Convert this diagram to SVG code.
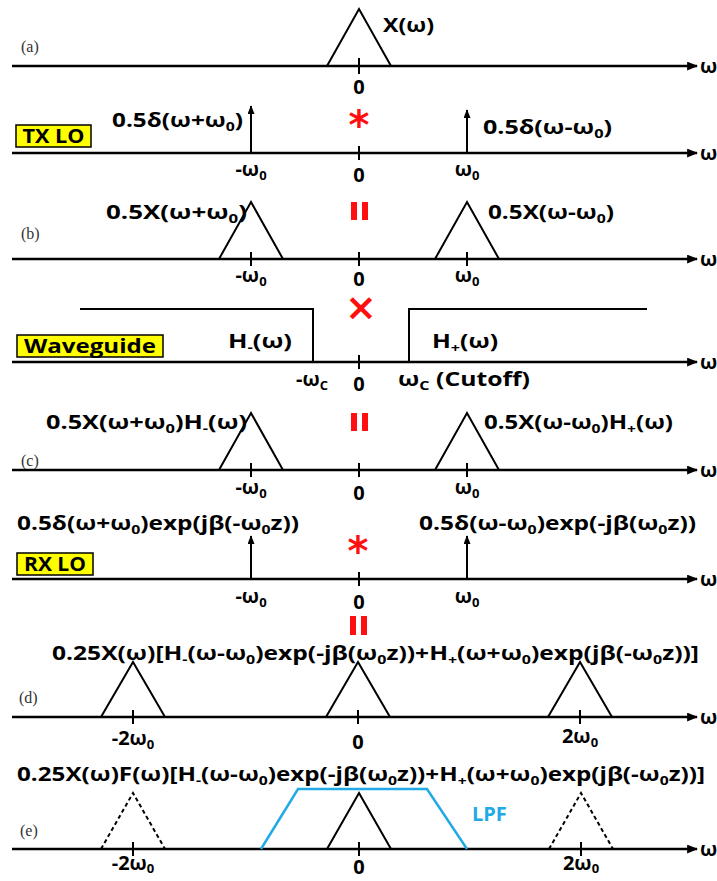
<svg xmlns="http://www.w3.org/2000/svg" width="717" height="881" viewBox="0 0 717 881">
<defs>
<style>
.t{font-family:"Open Sans","Liberation Sans",sans-serif;font-weight:700;font-size:20px;fill:#000}
.s{font-size:13px}
.lab{font-family:"Liberation Serif",serif;font-size:16px;fill:#333}
.ax{stroke:#000;stroke-width:2.5;fill:none}
.tk{stroke:#000;stroke-width:2;fill:none}
.tri{stroke:#000;stroke-width:2;fill:none;stroke-linejoin:miter}
.dash{stroke:#000;stroke-width:2;fill:none;stroke-dasharray:4 3}
.red{fill:#ff1010}
.op{font-family:"DejaVu Sans",sans-serif;font-weight:700;fill:#ff1010}
.box{fill:#ffff00;stroke:#000;stroke-width:1.5}
.lpf{stroke:#22aae6;stroke-width:2.5;fill:none}
</style>
<marker id="ah" viewBox="0 0 10 8" refX="9" refY="4" markerWidth="11" markerHeight="9" markerUnits="userSpaceOnUse" orient="auto"><path d="M0,0L10,4L0,8Z" fill="#000"/></marker>
<marker id="up" viewBox="0 0 10 8" refX="9" refY="4" markerWidth="10" markerHeight="7" markerUnits="userSpaceOnUse" orient="auto"><path d="M0,0L10,4L0,8Z" fill="#000"/></marker>
</defs>

<g id="connectors">
<line class="ax" x1="12" y1="66" x2="697" y2="66" marker-end="url(#ah)"/>
<line class="ax" x1="12" y1="153" x2="697" y2="153" marker-end="url(#ah)"/>
<line class="ax" x1="12" y1="259" x2="697" y2="259" marker-end="url(#ah)"/>
<line class="ax" x1="12" y1="362" x2="697" y2="362" marker-end="url(#ah)"/>
<line class="ax" x1="12" y1="470" x2="697" y2="470" marker-end="url(#ah)"/>
<line class="ax" x1="12" y1="579" x2="697" y2="579" marker-end="url(#ah)"/>
<line class="ax" x1="12" y1="717" x2="697" y2="717" marker-end="url(#ah)"/>
<line class="ax" x1="12" y1="849" x2="697" y2="849" marker-end="url(#ah)"/>
</g>

<g id="row-a">
<text class="lab" x="21" y="52">(a)</text>
<path class="tri" d="M327,66L359,9L391,66"/>
<line class="tk" x1="359" y1="58" x2="359" y2="74"/>
<text class="t" x="383" y="32" textLength="51" lengthAdjust="spacingAndGlyphs">X(ω)</text>
<text class="t" x="359" y="94" text-anchor="middle">0</text>
<text class="t" x="700" y="73">ω</text>
</g>

<g id="row-txlo">
<rect class="box" x="16" y="125" width="75" height="22"/>
<text class="t" x="53.5" y="143" text-anchor="middle" textLength="62" lengthAdjust="spacingAndGlyphs">TX LO</text>
<line class="tk" x1="251" y1="153" x2="251" y2="106" marker-end="url(#up)"/>
<line class="tk" x1="467" y1="153" x2="467" y2="110" marker-end="url(#up)"/>
<line class="tk" x1="359" y1="146" x2="359" y2="160"/>
<text class="t" x="112" y="127" textLength="131" lengthAdjust="spacingAndGlyphs">0.5δ(ω+ω<tspan class="s" dy="4">0</tspan><tspan dy="-4">)</tspan></text>
<text class="t" x="483" y="134" textLength="129" lengthAdjust="spacingAndGlyphs">0.5δ(ω-ω<tspan class="s" dy="4">0</tspan><tspan dy="-4">)</tspan></text>
<text class="op" x="359" y="139" text-anchor="middle" font-size="40">*</text>
<text class="t" x="251" y="176" text-anchor="middle">-ω<tspan class="s" dy="4">0</tspan></text>
<text class="t" x="467" y="176" text-anchor="middle">ω<tspan class="s" dy="4">0</tspan></text>
<text class="t" x="359" y="182" text-anchor="middle">0</text>
<text class="t" x="700" y="160">ω</text>
</g>

<g id="row-b">
<rect class="red" x="351" y="202" width="6" height="18"/>
<rect class="red" x="362" y="202" width="6" height="18"/>
<text class="lab" x="21" y="239">(b)</text>
<path class="tri" d="M219,259L251,202L283,259"/>
<path class="tri" d="M435,259L467,202L499,259"/>
<line class="tk" x1="251" y1="252" x2="251" y2="266"/>
<line class="tk" x1="359" y1="252" x2="359" y2="266"/>
<line class="tk" x1="467" y1="252" x2="467" y2="266"/>
<text class="t" x="106" y="219" textLength="141" lengthAdjust="spacingAndGlyphs">0.5X(ω+ω<tspan class="s" dy="4">0</tspan><tspan dy="-4">)</tspan></text>
<text class="t" x="488" y="219" textLength="126" lengthAdjust="spacingAndGlyphs">0.5X(ω-ω<tspan class="s" dy="4">0</tspan><tspan dy="-4">)</tspan></text>
<text class="t" x="251" y="282" text-anchor="middle">-ω<tspan class="s" dy="4">0</tspan></text>
<text class="t" x="467" y="282" text-anchor="middle">ω<tspan class="s" dy="4">0</tspan></text>
<text class="t" x="359" y="286" text-anchor="middle">0</text>
<text class="t" x="700" y="266">ω</text>
</g>

<g id="row-waveguide">
<text class="op" x="361" y="320" text-anchor="middle" font-size="38">×</text>
<path class="tri" d="M80,309H313V362"/>
<path class="tri" d="M409,362V309H647"/>
<rect class="box" x="17" y="335" width="146" height="22"/>
<text class="t" x="90" y="353" text-anchor="middle" textLength="132" lengthAdjust="spacingAndGlyphs">Waveguide</text>
<text class="t" x="228" y="348" textLength="64" lengthAdjust="spacingAndGlyphs">H<tspan class="s" dy="4">-</tspan><tspan dy="-4">(ω)</tspan></text>
<text class="t" x="432" y="348" textLength="66" lengthAdjust="spacingAndGlyphs">H<tspan class="s" dy="4">+</tspan><tspan dy="-4">(ω)</tspan></text>
<line class="tk" x1="359" y1="355" x2="359" y2="369"/>
<text class="t" x="296" y="386">-ω<tspan class="s" dy="4">C</tspan></text>
<text class="t" x="359" y="391" text-anchor="middle">0</text>
<text class="t" x="398" y="386" textLength="132" lengthAdjust="spacingAndGlyphs">ω<tspan class="s" dy="4">C</tspan><tspan dy="-4"> (Cutoff)</tspan></text>
<text class="t" x="700" y="369">ω</text>
</g>

<g id="row-c">
<rect class="red" x="351" y="413" width="6" height="18"/>
<rect class="red" x="362" y="413" width="6" height="18"/>
<text class="lab" x="21" y="466">(c)</text>
<path class="tri" d="M219,470L251,413L283,470"/>
<path class="tri" d="M435,470L467,413L499,470"/>
<line class="tk" x1="251" y1="463" x2="251" y2="477"/>
<line class="tk" x1="359" y1="463" x2="359" y2="477"/>
<line class="tk" x1="467" y1="463" x2="467" y2="477"/>
<text class="t" x="46" y="429" textLength="201" lengthAdjust="spacingAndGlyphs">0.5X(ω+ω<tspan class="s" dy="4">0</tspan><tspan dy="-4">)H</tspan><tspan class="s" dy="4">-</tspan><tspan dy="-4">(ω)</tspan></text>
<text class="t" x="484" y="429" textLength="189" lengthAdjust="spacingAndGlyphs">0.5X(ω-ω<tspan class="s" dy="4">0</tspan><tspan dy="-4">)H</tspan><tspan class="s" dy="4">+</tspan><tspan dy="-4">(ω)</tspan></text>
<text class="t" x="251" y="494" text-anchor="middle">-ω<tspan class="s" dy="4">0</tspan></text>
<text class="t" x="467" y="494" text-anchor="middle">ω<tspan class="s" dy="4">0</tspan></text>
<text class="t" x="359" y="500" text-anchor="middle">0</text>
<text class="t" x="700" y="477">ω</text>
</g>

<g id="row-rxlo">
<text class="t" x="17" y="530" textLength="282" lengthAdjust="spacingAndGlyphs">0.5δ(ω+ω<tspan class="s" dy="4">0</tspan><tspan dy="-4">)exp(jβ(-ω</tspan><tspan class="s" dy="4">0</tspan><tspan dy="-4">z))</tspan></text>
<text class="t" x="419" y="530" textLength="277" lengthAdjust="spacingAndGlyphs">0.5δ(ω-ω<tspan class="s" dy="4">0</tspan><tspan dy="-4">)exp(-jβ(ω</tspan><tspan class="s" dy="4">0</tspan><tspan dy="-4">z))</tspan></text>
<line class="tk" x1="251" y1="579" x2="251" y2="536" marker-end="url(#up)"/>
<line class="tk" x1="467" y1="579" x2="467" y2="536" marker-end="url(#up)"/>
<text class="op" x="358" y="565" text-anchor="middle" font-size="40">*</text>
<rect class="box" x="17" y="553" width="76" height="22"/>
<text class="t" x="55" y="571" text-anchor="middle" textLength="62" lengthAdjust="spacingAndGlyphs">RX LO</text>
<line class="tk" x1="359" y1="572" x2="359" y2="586"/>
<text class="t" x="251" y="603" text-anchor="middle">-ω<tspan class="s" dy="4">0</tspan></text>
<text class="t" x="467" y="603" text-anchor="middle">ω<tspan class="s" dy="4">0</tspan></text>
<text class="t" x="359" y="609" text-anchor="middle">0</text>
<text class="t" x="700" y="586">ω</text>
</g>

<g id="row-d">
<rect class="red" x="350" y="616" width="6" height="19"/>
<rect class="red" x="361" y="616" width="6" height="19"/>
<text class="lab" x="19" y="703">(d)</text>
<path class="tri" d="M101,717L133,662L165,717"/>
<path class="tri" d="M326,717L358,662L390,717"/>
<path class="tri" d="M548,717L580,662L612,717"/>
<line class="tk" x1="133" y1="710" x2="133" y2="724"/>
<line class="tk" x1="358" y1="710" x2="358" y2="724"/>
<line class="tk" x1="580" y1="710" x2="580" y2="724"/>
<text class="t" x="52" y="660" textLength="647" lengthAdjust="spacingAndGlyphs">0.25X(ω)[H<tspan class="s" dy="4">-</tspan><tspan dy="-4">(ω-ω</tspan><tspan class="s" dy="4">0</tspan><tspan dy="-4">)exp(-jβ(ω</tspan><tspan class="s" dy="4">0</tspan><tspan dy="-4">z))+H</tspan><tspan class="s" dy="4">+</tspan><tspan dy="-4">(ω+ω</tspan><tspan class="s" dy="4">0</tspan><tspan dy="-4">)exp(jβ(-ω</tspan><tspan class="s" dy="4">0</tspan><tspan dy="-4">z))]</tspan></text>
<text class="t" x="133" y="745" text-anchor="middle">-2ω<tspan class="s" dy="4">0</tspan></text>
<text class="t" x="358" y="749" text-anchor="middle">0</text>
<text class="t" x="580" y="743" text-anchor="middle">2ω<tspan class="s" dy="4">0</tspan></text>
<text class="t" x="700" y="724">ω</text>
</g>

<g id="row-e">
<text class="t" x="17" y="781" textLength="688" lengthAdjust="spacingAndGlyphs">0.25X(ω)F(ω)[H<tspan class="s" dy="4">-</tspan><tspan dy="-4">(ω-ω</tspan><tspan class="s" dy="4">0</tspan><tspan dy="-4">)exp(-jβ(ω</tspan><tspan class="s" dy="4">0</tspan><tspan dy="-4">z))+H</tspan><tspan class="s" dy="4">+</tspan><tspan dy="-4">(ω+ω</tspan><tspan class="s" dy="4">0</tspan><tspan dy="-4">)exp(jβ(-ω</tspan><tspan class="s" dy="4">0</tspan><tspan dy="-4">z))]</tspan></text>
<text class="lab" x="20" y="836">(e)</text>
<path class="dash" d="M101,849L133,793L165,849"/>
<path class="dash" d="M549,849L581,793L613,849"/>
<path class="tri" d="M327,849L359,793L391,849"/>
<path class="lpf" d="M261,849L298,789H427L467,849"/>
<text class="t" x="472" y="821" style="fill:#22aae6">LPF</text>
<line class="tk" x1="133" y1="842" x2="133" y2="856"/>
<line class="tk" x1="359" y1="842" x2="359" y2="856"/>
<line class="tk" x1="581" y1="842" x2="581" y2="856"/>
<text class="t" x="133" y="870" text-anchor="middle">-2ω<tspan class="s" dy="3">0</tspan></text>
<text class="t" x="359" y="874" text-anchor="middle">0</text>
<text class="t" x="581" y="870" text-anchor="middle">2ω<tspan class="s" dy="3">0</tspan></text>
<text class="t" x="700" y="856">ω</text>
</g>
</svg>
